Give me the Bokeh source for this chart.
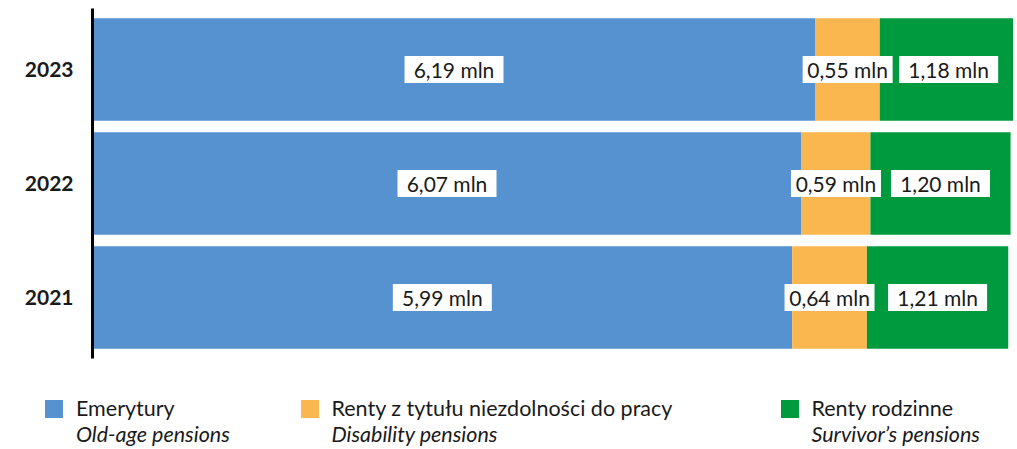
from bokeh.plotting import figure
from bokeh.models import FixedTicker, ColumnDataSource, Range1d, Div
from bokeh.layouts import column
from bokeh.embed import file_html
from bokeh.resources import INLINE
from bokeh.core.properties import value

# ---- data ----
years = [2023, 2022, 2021]
old_age = [6.19, 6.07, 5.99]
disability = [0.55, 0.59, 0.64]
survivor = [1.18, 1.20, 1.21]
series_keys = ["old_age", "disability", "survivor"]
series_pl = ["Emerytury", "Renty z tytułu niezdolności do pracy", "Renty rodzinne"]
series_en = ["Old-age pensions", "Disability pensions", "Survivor’s pensions"]
colors = ["#5592cf", "#fab64f", "#009a3e"]
x_max = 7.885  # visible end of the value axis (longest bar reaches the edge)

FONT = "Lato"
TXT = "#1a1a1a"

src = ColumnDataSource(dict(year=years, old_age=old_age, disability=disability, survivor=survivor))

p = figure(width=1013, height=368,
           x_range=Range1d(0, x_max), y_range=Range1d(2020.465, 2023.535),
           output_backend="svg", toolbar_location=None,
           min_border_left=92, min_border_right=0, min_border_top=8, min_border_bottom=10)

p.hbar_stack(series_keys, y="year", height=0.9, color=colors, line_color=None, source=src)

# value labels
lx, ly, lt, lw = [], [], [], []
for i, y in enumerate(years):
    vals = [old_age[i], disability[i], survivor[i]]
    left = 0.0
    for j, v in enumerate(vals):
        lx.append(left + v / 2)
        ly.append(y)
        lt.append(f"{v:.2f}".replace(".", ",") + " mln")
        lw.append(90 if j == 1 else 99)
        left += v
lab = ColumnDataSource(dict(x=lx, y=ly, t=lt, w=lw))
p.rect(x="x", y="y", width="w", height=27, width_units="screen", height_units="screen",
       fill_color="white", line_color=None, source=lab)
p.text(x="x", y="y", text="t", text_align="center", text_baseline="middle",
       text_font=value(FONT), text_font_size="21px", text_color=TXT, source=lab)

p.xaxis.visible = False
p.grid.visible = False
p.outline_line_color = None
p.yaxis.ticker = FixedTicker(ticks=years)
p.yaxis.major_label_overrides = {y: str(y) for y in years}
p.yaxis.major_tick_line_color = None
p.yaxis.minor_tick_line_color = None
p.yaxis.axis_line_color = "black"
p.yaxis.axis_line_width = 3
p.yaxis.major_label_text_font = FONT
p.yaxis.major_label_text_font_style = "bold"
p.yaxis.major_label_text_font_size = "21px"
p.yaxis.major_label_text_color = TXT
p.yaxis.major_label_standoff = 13

# ---- legend (HTML) ----
sq_left = [40, 295.5, 775.5]
parts = []
for x, c, pl, en in zip(sq_left, colors, series_pl, series_en):
    parts.append(
        f'<div style="position:absolute;left:{x}px;top:27px;width:18px;height:18px;background:{c};"></div>'
        f'<div style="position:absolute;left:{x + 31}px;top:22px;line-height:26px;white-space:nowrap;">'
        f'{pl}<br><i>{en}</i></div>'
    )
legend_html = (
    f'<div style="position:relative;width:1000px;height:76px;font-family:Lato;'
    f'font-size:21.5px;color:{TXT};overflow:visible;">' + "".join(parts) + "</div>"
)
leg = Div(text=legend_html, width=1013, height=81)

layout = column(p, leg, spacing=0)
open("out.html", "w").write(file_html(layout, INLINE))
